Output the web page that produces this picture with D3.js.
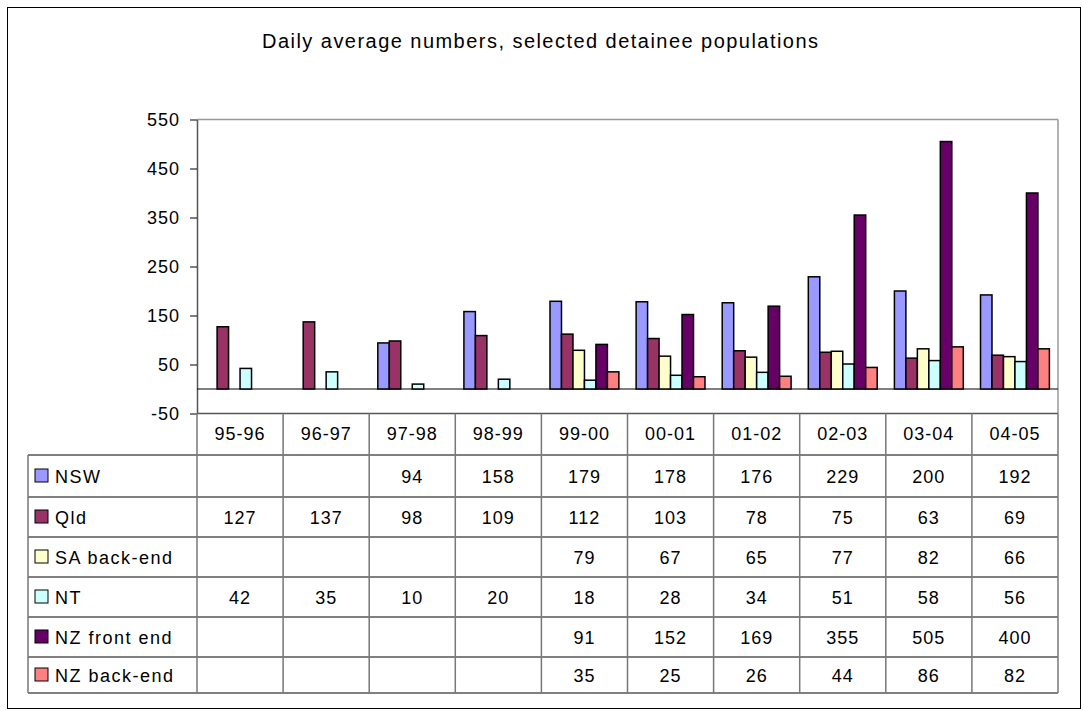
<!DOCTYPE html>
<html>
<head>
<meta charset="utf-8">
<script src="https://cdn.jsdelivr.net/npm/d3@7"></script>
<style>
  body { margin: 0; background: #fff; }
  text { font-family: Arial, "Liberation Sans", sans-serif; fill: #000; }
</style>
</head>
<body>
<svg id="chart"></svg>
<script>
var width = 1083;
var height = 711;

// data
var categories = ["95-96", "96-97", "97-98", "98-99", "99-00", "00-01", "01-02", "02-03", "03-04", "04-05"];
var seriesNames = ["NSW", "Qld", "SA back-end", "NT", "NZ front end", "NZ back-end"];
var nsw     = [null, null, 94, 158, 179, 178, 176, 229, 200, 192];
var qld     = [127, 137, 98, 109, 112, 103, 78, 75, 63, 69];
var saBack  = [null, null, null, null, 79, 67, 65, 77, 82, 66];
var nt      = [42, 35, 10, 20, 18, 28, 34, 51, 58, 56];
var nzFront = [null, null, null, null, 91, 152, 169, 355, 505, 400];
var nzBack  = [null, null, null, null, 35, 25, 26, 44, 86, 82];
var yTicks  = [-50, 50, 150, 250, 350, 450, 550];

var seriesValues = [nsw, qld, saBack, nt, nzFront, nzBack];
var colors = ["#9999FF", "#993366", "#FFFFCC", "#CCFFFF", "#660066", "#FF8080"];

var plot = { left: 197, right: 1058, top: 119.5, bottom: 413.5 };
var tableLeft = 28;
var rowHeights = [42, 40, 40, 40, 40, 36];   // body rows below the header row

var svg = d3.select("#chart").attr("width", width).attr("height", height);

// outer chart frame
svg.append("rect")
  .attr("x", 7.5).attr("y", 7.5)
  .attr("width", 1073).attr("height", 701)
  .attr("fill", "none").attr("stroke", "#000").attr("stroke-width", 1);

svg.append("text")
  .attr("x", 540).attr("y", 48)
  .attr("text-anchor", "middle")
  .attr("font-size", 20)
  .attr("textLength", 556).attr("lengthAdjust", "spacing")
  .text("Daily average numbers, selected detainee populations");

var x0 = d3.scaleBand()
  .domain(categories)
  .range([plot.left, plot.right])
  .paddingInner(0).paddingOuter(0);

var barW = x0.bandwidth() / 7.5;
var x1 = d3.scaleBand()
  .domain(seriesNames)
  .range([barW * 0.75, x0.bandwidth() - barW * 0.75])
  .padding(0);

var yScale = d3.scaleLinear()
  .domain([-50, 550])
  .range([plot.bottom, plot.top]);

// plot area border
svg.append("line")
  .attr("x1", plot.left).attr("x2", plot.right)
  .attr("y1", plot.top).attr("y2", plot.top)
  .attr("stroke", "#999").attr("stroke-width", 1.5);
svg.append("line")
  .attr("x1", plot.right).attr("x2", plot.right)
  .attr("y1", plot.top).attr("y2", plot.bottom)
  .attr("stroke", "#999").attr("stroke-width", 1.5);

// y axis
var yAxis = svg.append("g")
  .attr("transform", `translate(${plot.left},0)`)
  .call(d3.axisLeft(yScale)
    .tickValues(yTicks)
    .tickFormat(function(d) { return String(d); })
    .tickSize(7).tickSizeOuter(0).tickPadding(10));
yAxis.select(".domain").attr("stroke", "#555").attr("stroke-width", 1.5);
yAxis.selectAll(".tick line").attr("stroke", "#000");
yAxis.selectAll(".tick text")
  .attr("font-size", 18)
  .attr("font-family", "Arial, 'Liberation Sans', sans-serif")
  .attr("letter-spacing", 1)
  .attr("fill", "#000");

// zero line
svg.append("line")
  .attr("x1", plot.left).attr("x2", plot.right)
  .attr("y1", yScale(0)).attr("y2", yScale(0))
  .attr("stroke", "#000").attr("stroke-width", 1);

// bars
var groups = svg.selectAll("g.cat")
  .data(categories)
  .enter()
  .append("g")
  .attr("class", "cat")
  .attr("transform", function(d) { return `translate(${x0(d)},0)`; });

groups.selectAll("rect")
  .data(function(d, i) {
    return seriesNames.map(function(s, j) { return { s: s, j: j, v: seriesValues[j][i] }; })
      .filter(function(e) { return e.v != null; });
  })
  .enter()
  .append("rect")
  .attr("x", function(d) { return x1(d.s); })
  .attr("y", function(d) { return yScale(d.v); })
  .attr("width", x1.bandwidth())
  .attr("height", function(d) { return yScale(0) - yScale(d.v); })
  .attr("fill", function(d) { return colors[d.j]; })
  .attr("stroke", "#000")
  .attr("stroke-width", 1.5);

// data table
var rowTops = [plot.bottom];
var headerH = 41.5;
rowTops.push(plot.bottom + headerH);
rowHeights.forEach(function(h) { rowTops.push(rowTops[rowTops.length - 1] + h); });
var tableBottom = rowTops[rowTops.length - 1];

// category axis line (bottom of plot)
svg.append("line")
  .attr("x1", plot.left).attr("x2", plot.right)
  .attr("y1", plot.bottom).attr("y2", plot.bottom)
  .attr("stroke", "#555").attr("stroke-width", 1.5);

// horizontal row lines
svg.selectAll("line.rowline")
  .data(rowTops.slice(1))
  .enter()
  .append("line")
  .attr("class", "rowline")
  .attr("x1", tableLeft).attr("x2", plot.right)
  .attr("y1", function(d) { return d; }).attr("y2", function(d) { return d; })
  .attr("stroke", "#000").attr("stroke-width", 1);

// vertical column lines
var colEdges = categories.map(function(c) { return x0(c); }).concat([plot.right]);
svg.selectAll("line.colline")
  .data(colEdges)
  .enter()
  .append("line")
  .attr("class", "colline")
  .attr("x1", function(d) { return d; }).attr("x2", function(d) { return d; })
  .attr("y1", plot.bottom).attr("y2", tableBottom)
  .attr("stroke", "#777").attr("stroke-width", 1.5);

svg.append("line")
  .attr("x1", tableLeft).attr("x2", tableLeft)
  .attr("y1", rowTops[1]).attr("y2", tableBottom)
  .attr("stroke", "#777").attr("stroke-width", 1.5);

// header labels
svg.selectAll("text.cathead")
  .data(categories)
  .enter()
  .append("text")
  .attr("class", "cathead")
  .attr("x", function(d) { return x0(d) + x0.bandwidth() / 2; })
  .attr("y", (rowTops[0] + rowTops[1]) / 2 + 6)
  .attr("text-anchor", "middle")
  .attr("font-size", 18)
  .attr("letter-spacing", 1)
  .text(function(d) { return d; });

// legend column + values
seriesNames.forEach(function(s, j) {
  var top = rowTops[j + 1], bot = rowTops[j + 2];
  var mid = (top + bot) / 2;
  svg.append("rect")
    .attr("x", 35).attr("y", mid - 7)
    .attr("width", 13).attr("height", 13)
    .attr("fill", colors[j]).attr("stroke", "#000").attr("stroke-width", 1);
  svg.append("text")
    .attr("x", 55).attr("y", mid + 6.5)
    .attr("font-size", 18)
    .attr("letter-spacing", 1.5)
    .text(s);
  svg.selectAll(null)
    .data(categories)
    .enter()
    .append("text")
    .attr("x", function(d) { return x0(d) + x0.bandwidth() / 2; })
    .attr("y", mid + 6.5)
    .attr("text-anchor", "middle")
    .attr("font-size", 18)
    .attr("letter-spacing", 1)
    .text(function(d, i) { var v = seriesValues[j][i]; return v == null ? "" : v; });
});
</script>
</body>
</html>
